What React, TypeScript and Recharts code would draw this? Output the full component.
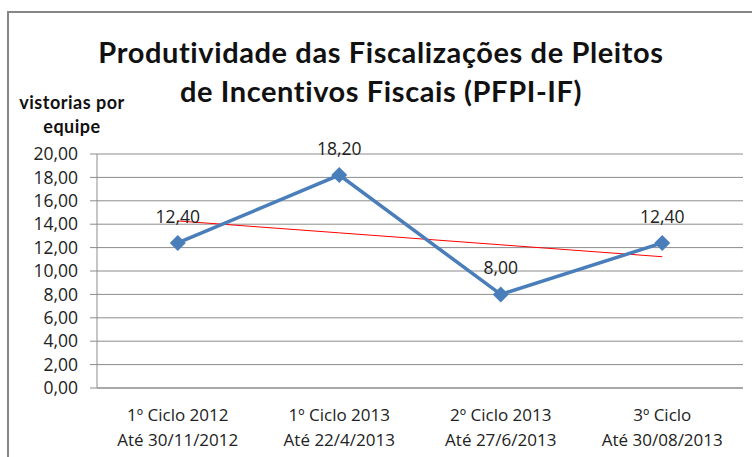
import { ComposedChart, Line, XAxis, YAxis, CartesianGrid, LabelList } from 'recharts'

const ciclos = ['1º Ciclo 2012', '1º  Ciclo 2013', '2º Ciclo 2013', '3º Ciclo']
const datas = ['Até 30/11/2012', 'Até 22/4/2013', 'Até 27/6/2013', 'Até 30/08/2013']
const vistorias = [12.4, 18.2, 8.0, 12.4]
const tendencia = [14.28, 13.26, 12.24, 11.22]
const yTicks = [0, 2, 4, 6, 8, 10, 12, 14, 16, 18, 20]

const data = ciclos.map((c, i) => ({ ciclo: c, data: datas[i], valor: vistorias[i], trend: tendencia[i] }))

const font = '"Open Sans", Lato, sans-serif'
const fmt = (v: number) => v.toFixed(2).replace('.', ',')

const Diamond = (props: any) => {
    const { cx, cy } = props
    if (cx == null || cy == null) return null
    const r = 8
    return <polygon points={`${cx},${cy - r} ${cx + r},${cy} ${cx},${cy + r} ${cx - r},${cy}`} fill='#4A7EBB' />
}

const CatTick = (props: any) => {
    const { x, y, payload } = props
    const d = data[payload.index]
    return (
        <g transform={`translate(${x},${y})`}>
            <text textAnchor='middle' fontFamily={font} fontSize={17} fill='#222'>
                <tspan x={0} dy={25}>{d.ciclo}</tspan>
                <tspan x={0} dy={25}>{d.data}</tspan>
            </text>
        </g>
    )
}

export default function App() {
    return (
        <div style={{ position: 'absolute', left: 0, top: 0, width: 752, height: 457, overflow: 'hidden', background: 'white', fontFamily: font }}>
            <div style={{ position: 'absolute', left: 7, top: 11, width: 800, height: 500, border: '2px solid #868686' }} />
            <div style={{ position: 'absolute', left: 0, top: 32, width: 762, textAlign: 'center', fontWeight: 'bold', fontSize: 29, lineHeight: '39px', color: '#111', fontFamily: 'Lato, sans-serif', letterSpacing: 0.6 }}>
                Produtividade das Fiscalizações de Pleitos<br />de Incentivos Fiscais (PFPI-IF)
            </div>
            <div style={{ position: 'absolute', left: 12, top: 90, width: 120, textAlign: 'center', fontWeight: 'bold', fontSize: 18, lineHeight: '24px', color: '#111', fontFamily: 'Lato, sans-serif', letterSpacing: 0.5 }}>
                vistorias por<br />equipe
            </div>
            <div style={{ position: 'absolute', left: 0, top: 0 }}>
                <ComposedChart width={752} height={457} data={data} margin={{ top: 154, right: 9, bottom: 0, left: 0 }}>
                    <CartesianGrid vertical={false} stroke='#8c8c8c' />
                    <XAxis xAxisId='b' type='number' domain={[0, 4]} ticks={[0, 1, 2, 3, 4]} tick={false} tickSize={6} tickLine={{ stroke: '#8c8c8c' }} axisLine={false} height={1} />
                    <XAxis dataKey='ciclo' scale='band' tick={<CatTick />} tickLine={false} axisLine={{ stroke: '#8c8c8c' }} interval={0} height={68} />
                    <YAxis domain={[0, 20]} ticks={yTicks} interval={0} tickFormatter={fmt} width={97} tickSize={7} tickMargin={12}
                        tick={{ fontFamily: font, fontSize: 17.5, fill: '#222' }} axisLine={{ stroke: '#8c8c8c' }} tickLine={{ stroke: '#8c8c8c' }} />
                    <Line dataKey='trend' stroke='#ff0000' strokeWidth={1} dot={false} activeDot={false} isAnimationActive={false} />
                    <Line dataKey='valor' stroke='#4A7EBB' strokeWidth={3.5} dot={<Diamond />} activeDot={false} isAnimationActive={false}>
                        <LabelList dataKey='valor' position='top' offset={20} formatter={(v: any) => fmt(Number(v))}
                            style={{ fontFamily: font, fontSize: 17.5, fill: '#222' }} />
                    </Line>
                </ComposedChart>
            </div>
        </div>
    )
}
